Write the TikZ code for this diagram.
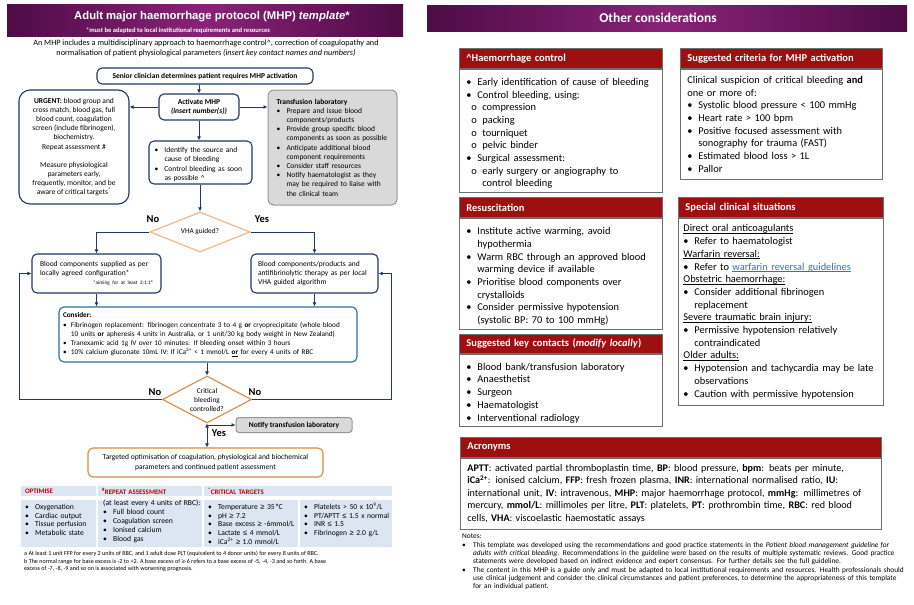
\documentclass[tikz,border=0pt]{standalone}
\usepackage{fontspec}
\setmainfont{Carlito}
\newfontfamily\arialfont{Liberation Sans}
\usetikzlibrary{arrows.meta,shapes.geometric,positioning}
\setlength{\parindent}{0pt}

\definecolor{navy}{RGB}{31,56,100}
\definecolor{considerblue}{RGB}{40,110,160}
\definecolor{paleorange}{RGB}{244,177,131}
\definecolor{deeporange}{RGB}{226,135,60}
\definecolor{labgrey}{RGB}{217,217,217}
\definecolor{labrim}{RGB}{150,150,150}
\definecolor{plum}{RGB}{78,12,70}
\definecolor{orchid}{RGB}{138,34,120}
\definecolor{headred}{RGB}{158,16,16}
\definecolor{rimgrey}{RGB}{110,110,110}
\definecolor{tableblue}{RGB}{220,230,242}
\definecolor{tablered}{RGB}{192,0,0}
\definecolor{linkblue}{RGB}{46,116,181}

\newcommand{\bitem}[2][10pt]{\par\noindent\hangindent=#1\hangafter=1\makebox[#1][l]{\textbullet}#2\par}
\newcommand{\oitem}[1]{\par\noindent\hangindent=16pt\hangafter=1\hspace*{5pt}\makebox[11pt][l]{o}#1\par}
\newcommand{\wul}[1]{\setbox0\hbox{#1}\leavevmode\rlap{\rule[-1.6pt]{\wd0}{0.6pt}}\box0\relax}
\newcommand{\symtxt}[1]{{\arialfont #1}}
\newcommand{\flowsize}{\fontsize{7.5}{9.2}\selectfont}
\newcommand{\sidesize}{\fontsize{10.4}{12.7}\selectfont}

\begin{document}
\begin{tikzpicture}[x=1pt, y=-1pt,
    flow/.style={draw=navy, line width=1.1pt, rounded corners=5pt, fill=white, font=\flowsize, inner sep=0pt},
    labbox/.style={draw=labrim, fill=labgrey, line width=1pt, rounded corners=6pt, font=\flowsize, inner sep=0pt},
    query/.style={diamond, draw=#1, line width=1.1pt, fill=white, inner sep=0pt, shape aspect=1.9, font=\fontsize{7.3}{9}\selectfont, align=center},
    link/.style={draw=navy, line width=1pt, -{Latex[length=4pt,width=4pt]}},
    twoway/.style={draw=navy, line width=1pt, {Latex[length=4pt,width=4pt]}-{Latex[length=4pt,width=4pt]}},
    answer/.style={font=\bfseries\fontsize{10.5}{12}\selectfont},
    banner/.style={left color=plum, right color=plum, middle color=orchid, draw=none, anchor=north west, inner sep=0pt},
    cell/.style={fill=tableblue, draw=white, line width=1.2pt, inner sep=0pt},
    cellhead/.style={cell, align=left, text=tablered, font=\bfseries\fontsize{6.9}{8}\selectfont},
    celltext/.style={anchor=north west, inner sep=0pt, font=\fontsize{7.6}{8.9}\selectfont, align=left},
    sidehead/.style={fill=headred, draw=rimgrey, line width=0.8pt, text=white, anchor=north west, inner xsep=7pt, inner ysep=0pt, font=\bfseries\fontsize{10.5}{12}\selectfont, align=left},
    sidebody/.style={draw=rimgrey, line width=0.8pt, fill=white, anchor=north west, inner xsep=7pt, inner ysep=0pt, font=\sidesize, align=left},
  ]
  \useasboundingbox (0,0) rectangle (914,605);

  % left page: protocol
  \node[banner, minimum width=396, minimum height=32] (leftbanner) at (7,4) {};
  \node[text=white, font=\arialfont\bfseries\fontsize{11.3}{12}\selectfont] (title) at (212,17) {Adult major haemorrhage protocol (MHP) \textit{template}*};
  \node[text=white, font=\bfseries\fontsize{6.6}{8}\selectfont] (subtitle) at (178,30.5) {*must be adapted to local institutional requirements and resources};
  \node[align=center, font=\fontsize{8.2}{10}\selectfont] (intro) at (206,48) {An MHP includes a multidisciplinary approach to haemorrhage control\textasciicircum, correction of coagulopathy and\\normalisation of patient physiological parameters \textit{(insert key contact names and numbers)}};

  \node[flow, minimum width=216, minimum height=16, font=\bfseries\flowsize] (senior) at (205,76) {Senior clinician determines patient requires MHP activation};
  \node[flow, minimum width=80, minimum height=26, align=center, font=\bfseries\flowsize] (activate) at (199,107) {Activate MHP\\\textit{(insert number(s))}};
  \node[flow, rounded corners=11pt, minimum width=110, minimum height=114, align=center] (urgent) at (74,147) {
    \textbf{URGENT:} blood group and\\cross match, blood gas, full\\blood count, coagulation\\screen (include fibrinogen),\\biochemistry.\\Repeat assessment \#\\[9pt]
    Measure physiological\\parameters early,\\frequently, monitor, and be\\aware of critical targets\textsuperscript{*}};
  \node[labbox, minimum width=129, minimum height=115, text width=112, align=left] (lab) at (332.5,147.5) {
    \textbf{Transfusion laboratory}
    \bitem{Prepare and issue blood\newline components/products}
    \bitem{Provide group specific blood\newline components as soon as possible}
    \bitem{Anticipate additional blood\newline component requirements}
    \bitem{Consider staff resources}
    \bitem{Notify haematologist as they\newline may be required to liaise with\newline the clinical team}};
  \node[flow, minimum width=103, minimum height=43, text width=92, align=left] (identify) at (200.5,162.5) {
    \bitem{Identify the source and\newline cause of bleeding}
    \bitem{Control bleeding as soon\newline as possible \textasciicircum}};

  \node[query=paleorange, minimum width=100, minimum height=40] (vha) at (200,232) {VHA guided?};
  \node[answer] (vhano) at (153,219) {No};
  \node[answer] (vhayes) at (262,219) {Yes};

  \node[flow, minimum width=129, minimum height=39, text width=113, align=left] (bloodleft) at (96.5,273.5) {
    Blood components supplied as per\\locally agreed configuration*\\
    \hspace*{\fill}{\fontsize{5.2}{6}\selectfont *aiming for at least 2:1:1\textsuperscript{a}}\hspace*{-5pt}};
  \node[flow, minimum width=127, minimum height=39, text width=113, align=left] (bloodright) at (314.5,273.5) {
    Blood components/products and\\antifibrinolytic therapy as per local\\VHA guided algorithm};

  \node[flow, draw=considerblue, minimum width=298, minimum height=55, text width=290, align=left, font=\fontsize{7.25}{9.2}\selectfont] (consider) at (208,334.5) {
    \textbf{Consider:}
    \bitem[8pt]{Fibrinogen replacement: fibrinogen concentrate 3 to 4 g \textbf{or} cryoprecipitate (whole blood\newline 10 units \textbf{or} apheresis 4 units in Australia, or 1 unit/30 kg body weight in New Zealand)}
    \bitem[8pt]{Tranexamic acid 1g IV over 10 minutes: If bleeding onset within 3 hours}
    \bitem[8pt]{10\% calcium gluconate 10mL IV: If iCa\textsuperscript{2+} < 1 mmol/L \wul{\textbf{or}} for every 4 units of RBC}};

  \node[query=deeporange, minimum width=89, minimum height=47] (critical) at (207,399.5) {Critical\\bleeding\\controlled?};
  \node[answer] (critno) at (155,392) {No};
  \node[answer] (critnotoo) at (255,392) {No};
  \node[answer] (crityes) at (219,433) {Yes};
  \node[labbox, rounded corners=3pt, minimum width=116, minimum height=15, font=\bfseries\flowsize] (notify) at (294,425) {Notify transfusion laboratory};
  \node[flow, draw=deeporange, minimum width=235, minimum height=29, align=center] (targeted) at (205.5,462.5) {Targeted optimisation of coagulation, physiological and biochemical\\parameters and continued patient assessment};

  \draw[link] (senior.south -| activate) -- (activate.north);
  \draw[link] (activate) -- (activate -| urgent.east);
  \draw[link] (activate) -- (activate -| lab.west);
  \draw[link] (activate) -- (activate |- identify.north);
  \draw[link] (identify.south -| vha) -- (vha.north);
  \draw[link] (vha.west) -| (bloodleft.north);
  \draw[link] (vha.east) -| (bloodright.north);
  \draw[link] (bloodleft.south) -- (bloodleft.south |- consider.north);
  \draw[link] (bloodright.south) -- (bloodright.south |- consider.north);
  \draw[link] (consider.south -| critical) -- (critical.north);
  \draw[link] (critical.west) -| ([xshift=-12pt]bloodleft.west) -- (bloodleft.west);
  \draw[link] (critical.east) -| ([xshift=13pt]bloodright.east) -- (bloodright.east);
  \draw[link] (critical.south |- notify.west) -- (notify.west);
  \draw[twoway] (critical.south) -- (critical.south |- targeted.north);

  % targets table
  \node[cellhead, minimum width=77, minimum height=12, text width=67] (opthead) at (58.5,491) {OPTIMISE};
  \node[cellhead, minimum width=106, minimum height=12, text width=96] (rephead) at (150,491) {\textsuperscript{\#}REPEAT ASSESSMENT};
  \node[cellhead, minimum width=190, minimum height=12, text width=180] (crithead) at (298,491) {\textsuperscript{*}CRITICAL TARGETS};
  \node[cell, minimum width=77, minimum height=49] (optcell) at (58.5,523.5) {};
  \node[cell, minimum width=106, minimum height=49] (repcell) at (150,523.5) {};
  \node[cell, minimum width=96, minimum height=49] (critcella) at (251,523.5) {};
  \node[cell, minimum width=94, minimum height=49] (critcellb) at (346,523.5) {};
  \node[celltext, text width=70] (opttext) at (25,500) {\bitem{Oxygenation}\bitem{Cardiac output}\bitem{Tissue perfusion}\bitem{Metabolic state}};
  \node[celltext, text width=100] (reptext) at (103,500) {(at least every 4 units of RBC):\bitem{Full blood count}\bitem{Coagulation screen}\bitem{Ionised calcium}\bitem{Blood gas}};
  \node[celltext, text width=92] (crittexta) at (208,500) {\bitem{Temperature \symtxt{≥} 35\,°C}\bitem{pH \symtxt{≥} 7.2}\bitem{Base excess \symtxt{≥} -6mmol/L}\bitem{Lactate \symtxt{≤} 4 mmol/L}\bitem{iCa\textsuperscript{2+} \symtxt{≥} 1.0 mmol/L}};
  \node[celltext, text width=88] (crittextb) at (304,500) {\bitem{Platelets > 50 x 10\textsuperscript{9}/L}\bitem{PT/APTT \symtxt{≤} 1.5 x normal}\bitem{INR \symtxt{≤} 1.5}\bitem{Fibrinogen \symtxt{≥} 2.0 g/L}};
  \node[anchor=north west, inner sep=0pt, align=left, font=\fontsize{6.1}{7.5}\selectfont] (footnotes) at (24,551) {
    a At least 1 unit FFP for every 2 units of RBC, and 1 adult dose PLT (equivalent to 4 donor units) for every 8 units of RBC.\\
    b The normal range for base excess is -2 to +2. A base excess of \symtxt{≥}-6 refers to a base excess of -5, -4, -3 and so forth. A base\\
    excess of -7, -8, -9 and so on is associated with worsening prognosis.};

  % right page: other considerations
  \node[banner, minimum width=480, minimum height=26] (rightbanner) at (427,5) {};
  \node[text=white, font=\bfseries\fontsize{13.5}{15}\selectfont] (othertitle) at (658,18) {Other considerations};

  \node[sidehead, text width=189, minimum height=20] (hchead) at (459,48) {\textasciicircum Haemorrhage control};
  \node[sidebody, text width=189, minimum height=123] (hcbody) at (hchead.south west) {
    \bitem[11pt]{Early identification of cause of bleeding}
    \bitem[11pt]{Control bleeding, using:}
    \oitem{compression}\oitem{packing}\oitem{tourniquet}\oitem{pelvic binder}
    \bitem[11pt]{Surgical assessment:}
    \oitem{early surgery or angiography to\newline control bleeding}};

  \node[sidehead, text width=188, minimum height=20] (mhphead) at (680,48) {Suggested criteria for MHP activation};
  \node[sidebody, text width=188, minimum height=110] (mhpbody) at (mhphead.south west) {
    Clinical suspicion of critical bleeding \textbf{and}\\one or more of:
    \bitem[11pt]{Systolic blood pressure < 100 mmHg}
    \bitem[11pt]{Heart rate > 100 bpm}
    \bitem[11pt]{Positive focused assessment with\newline sonography for trauma (FAST)}
    \bitem[11pt]{Estimated blood loss > 1L}
    \bitem[11pt]{Pallor}};

  \node[sidehead, text width=189, minimum height=20] (resushead) at (459,197) {Resuscitation};
  \node[sidebody, text width=189, minimum height=111] (resusbody) at (resushead.south west) {
    \bitem[11pt]{Institute active warming, avoid\newline hypothermia}
    \bitem[11pt]{Warm RBC through an approved blood\newline warming device if available}
    \bitem[11pt]{Prioritise blood components over\newline crystalloids}
    \bitem[11pt]{Consider permissive hypotension\newline (systolic BP: 70 to 100 mmHg)}};

  \node[sidehead, text width=189, minimum height=19] (contacthead) at (459,334) {Suggested key contacts (\textit{modify locally})};
  \node[sidebody, text width=189, minimum height=72] (contactbody) at (contacthead.south west) {
    \bitem[11pt]{Blood bank/transfusion laboratory}
    \bitem[11pt]{Anaesthetist}
    \bitem[11pt]{Surgeon}
    \bitem[11pt]{Haematologist}
    \bitem[11pt]{Interventional radiology}};

  \node[sidehead, text width=191, minimum height=20] (specialhead) at (678,197) {Special clinical situations};
  \node[sidebody, inner xsep=5pt, text width=195, minimum height=187] (specialbody) at (specialhead.south west) {
    \wul{Direct oral anticoagulants}
    \bitem[11pt]{Refer to haematologist}
    \wul{Warfarin reversal:}
    \bitem[11pt]{Refer to \textcolor{linkblue}{\wul{warfarin reversal guidelines}}}
    \wul{Obstetric haemorrhage:}
    \bitem[11pt]{Consider additional fibrinogen\newline replacement}
    \wul{Severe traumatic brain injury:}
    \bitem[11pt]{Permissive hypotension relatively\newline contraindicated}
    \wul{Older adults:}
    \bitem[11pt]{Hypotension and tachycardia may be late\newline observations}
    \bitem[11pt]{Caution with permissive hypotension}};

  \node[sidehead, text width=407, minimum height=20] (acrohead) at (460,437) {Acronyms};
  \node[sidebody, text width=407, minimum height=71, font=\fontsize{10.1}{12.5}\selectfont] (acrobody) at (acrohead.south west) {
    \textbf{APTT}: activated partial thromboplastin time, \textbf{BP}: blood pressure, \textbf{bpm}: beats per minute,\\
    \textbf{iCa\textsuperscript{2+}}: ionised calcium, \textbf{FFP}: fresh frozen plasma, \textbf{INR}: international normalised ratio, \textbf{IU}:\\
    international unit, \textbf{IV}: intravenous, \textbf{MHP}: major haemorrhage protocol, \textbf{mmHg}: millimetres of\\
    mercury, \textbf{mmol/L}: millimoles per litre, \textbf{PLT}: platelets, \textbf{PT}: prothrombin time, \textbf{RBC}: red blood\\
    cells, \textbf{VHA}: viscoelastic haemostatic assays};

  \node[anchor=north west, inner sep=0pt, text width=445, align=left, font=\fontsize{7.35}{8.3}\selectfont] (notes) at (462,534) {
    Notes:
    \bitem[11pt]{This template was developed using the recommendations and good practice statements in the \textit{Patient blood management guideline for}\newline \textit{adults with critical bleeding}. Recommendations in the guideline were based on the results of multiple systematic reviews. Good practice\newline statements were developed based on indirect evidence and expert consensus. For further details see the full guideline.}
    \bitem[11pt]{The content in this MHP is a guide only and must be adapted to local institutional requirements and resources. Health professionals should\newline use clinical judgement and consider the clinical circumstances and patient preferences, to determine the appropriateness of this template\newline for an individual patient.}};
\end{tikzpicture}
\end{document}
